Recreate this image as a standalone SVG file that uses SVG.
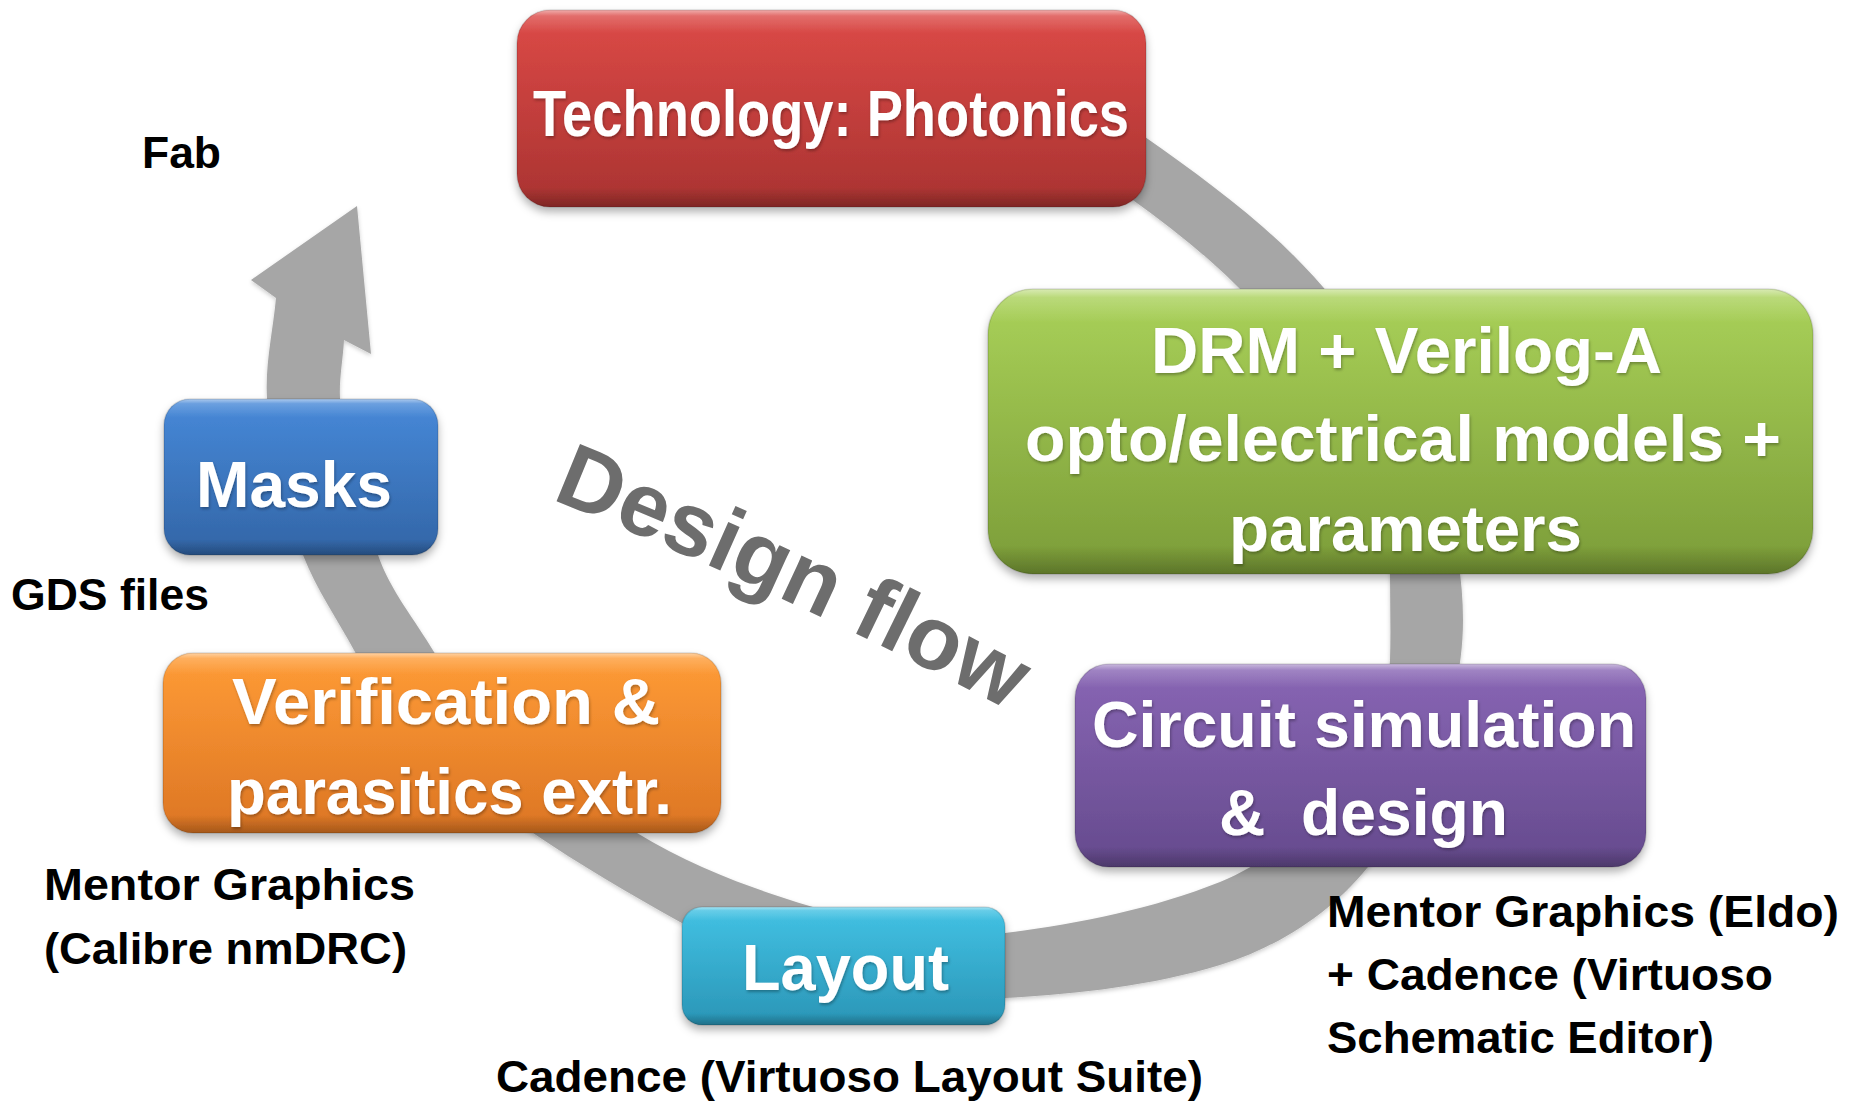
<svg xmlns="http://www.w3.org/2000/svg" width="1854" height="1102" viewBox="0 0 1854 1102">
  <style>
    .bt { font-family: "Liberation Sans", Arial, sans-serif; font-weight: bold; fill: #ffffff; font-size: 64px; }
    .lb { font-family: "Liberation Sans", Arial, sans-serif; font-weight: bold; fill: #000000; font-size: 44px; }
    .df { font-family: "Liberation Sans", Arial, sans-serif; font-weight: bold; fill: #6d6d6d; font-size: 90px; }
    .box { filter: url(#sh); }
    .rim { fill: url(#gloss); stroke: #000000; stroke-opacity: 0.12; stroke-width: 1.5; }
    .band { fill: #a6a6a6; }
  </style>
  <defs>
    <filter id="sh" x="-10%" y="-15%" width="120%" height="140%">
      <feDropShadow dx="0" dy="5" stdDeviation="4" flood-color="#000000" flood-opacity="0.3"/>
    </filter>
    <filter id="ts" x="-5%" y="-20%" width="110%" height="150%">
      <feDropShadow dx="1" dy="2" stdDeviation="1.5" flood-color="#000000" flood-opacity="0.3"/>
    </filter>
    <filter id="bs" x="-5%" y="-5%" width="110%" height="110%">
      <feDropShadow dx="0" dy="2" stdDeviation="2" flood-color="#000000" flood-opacity="0.2"/>
    </filter>
    <linearGradient id="gloss" x1="0" y1="0" x2="0" y2="1">
      <stop offset="0" stop-color="#ffffff" stop-opacity="0.55"/>
      <stop offset="0.03" stop-color="#ffffff" stop-opacity="0.2"/>
      <stop offset="0.12" stop-color="#ffffff" stop-opacity="0"/>
      <stop offset="0.9" stop-color="#000000" stop-opacity="0"/>
      <stop offset="1" stop-color="#000000" stop-opacity="0.25"/>
    </linearGradient>
    <linearGradient id="gRed" x1="0" y1="0" x2="0" y2="1">
      <stop offset="0" stop-color="#dd4a47"/>
      <stop offset="1" stop-color="#a93331"/>
    </linearGradient>
    <linearGradient id="gGreen" x1="0" y1="0" x2="0" y2="1">
      <stop offset="0" stop-color="#aad259"/>
      <stop offset="1" stop-color="#7b9c38"/>
    </linearGradient>
    <linearGradient id="gPurple" x1="0" y1="0" x2="0" y2="1">
      <stop offset="0" stop-color="#8966b5"/>
      <stop offset="1" stop-color="#654a8d"/>
    </linearGradient>
    <linearGradient id="gCyan" x1="0" y1="0" x2="0" y2="1">
      <stop offset="0" stop-color="#42c2e4"/>
      <stop offset="1" stop-color="#2a95b6"/>
    </linearGradient>
    <linearGradient id="gOrange" x1="0" y1="0" x2="0" y2="1">
      <stop offset="0" stop-color="#ff9c36"/>
      <stop offset="1" stop-color="#dc7524"/>
    </linearGradient>
    <linearGradient id="gBlue" x1="0" y1="0" x2="0" y2="1">
      <stop offset="0" stop-color="#4789d9"/>
      <stop offset="1" stop-color="#3265a6"/>
    </linearGradient>
    <path id="dfPath" d="M 551,499 A 5000 5000 0 0 1 1040,727"/>
  </defs>

  <rect x="0" y="0" width="1854" height="1102" fill="#ffffff"/>

  <g id="connectors">
    <path id="flow-arrow" class="band" filter="url(#bs)" d="M 1000,72 C 1051,87 1102,107 1145,137 C 1209,182 1272,228 1323,287 C 1402,378 1463,500 1463,620 C 1463,708 1423,798 1368,867 C 1331,913 1277,948 1220,965 C 1151,986 1077,994 1005,998 C 894,1003 777,975 680,922 C 630,894 580,865 533,833 C 463,785 395,727 355,652 C 338,620 316,589 303,555 C 284,505 270,452 267,398 C 265,364 273,331 276,298 L 251,280 L 357,206 L 371,354 L 344,340 C 343,359 339,379 340,398 C 342,452 360,504 378,555 C 390,590 415,620 434,652 C 479,731 559,786 637,833 C 691,866 752,889 813,907 C 875,925 941,941 1005,933 C 1078,924 1152,909 1220,882 C 1306,847 1385,753 1390,660 C 1391,632 1390,603 1390,575 C 1390,467 1315,364 1238,287 C 1205,254 1168,225 1130,198 C 1091,170 1047,147 1000,135 Z"/>
  </g>

  <g id="design-flow-title">
    <text class="df"><textPath href="#dfPath">Design flow</textPath></text>
  </g>

  <g id="node-technology" class="box">
    <rect x="517" y="10" width="629" height="197" rx="33" fill="url(#gRed)"/>
    <rect class="rim" x="517" y="10" width="629" height="197" rx="33"/>
    <text class="bt" filter="url(#ts)" x="533" y="136" font-size="56" textLength="596" lengthAdjust="spacingAndGlyphs">Technology: Photonics</text>
  </g>

  <g id="node-drm" class="box">
    <rect x="988" y="289" width="825" height="285" rx="45" fill="url(#gGreen)"/>
    <rect class="rim" x="988" y="289" width="825" height="285" rx="45"/>
    <text class="bt" filter="url(#ts)" x="1151" y="373" textLength="511" lengthAdjust="spacingAndGlyphs">DRM + Verilog-A</text>
    <text class="bt" filter="url(#ts)" x="1025" y="461" textLength="756" lengthAdjust="spacingAndGlyphs">opto/electrical models +</text>
    <text class="bt" filter="url(#ts)" x="1229" y="551" textLength="353" lengthAdjust="spacingAndGlyphs">parameters</text>
  </g>

  <g id="node-circuit" class="box">
    <rect x="1075" y="664" width="571" height="203" rx="34" fill="url(#gPurple)"/>
    <rect class="rim" x="1075" y="664" width="571" height="203" rx="34"/>
    <text class="bt" filter="url(#ts)" x="1092" y="747" textLength="544" lengthAdjust="spacingAndGlyphs">Circuit simulation</text>
    <text class="bt" filter="url(#ts)" x="1219" y="835" textLength="289" lengthAdjust="spacingAndGlyphs" xml:space="preserve" style="white-space:pre">&amp;  design</text>
  </g>

  <g id="node-layout" class="box">
    <rect x="682" y="907" width="323" height="118" rx="20" fill="url(#gCyan)"/>
    <rect class="rim" x="682" y="907" width="323" height="118" rx="20"/>
    <text class="bt" filter="url(#ts)" x="742" y="990" textLength="207" lengthAdjust="spacingAndGlyphs">Layout</text>
  </g>

  <g id="node-verification" class="box">
    <rect x="163" y="653" width="558" height="180" rx="30" fill="url(#gOrange)"/>
    <rect class="rim" x="163" y="653" width="558" height="180" rx="30"/>
    <text class="bt" filter="url(#ts)" x="232" y="724" textLength="428" lengthAdjust="spacingAndGlyphs">Verification &amp;</text>
    <text class="bt" filter="url(#ts)" x="227" y="814" textLength="445" lengthAdjust="spacingAndGlyphs">parasitics extr.</text>
  </g>

  <g id="node-masks" class="box">
    <rect x="164" y="399" width="274" height="156" rx="26" fill="url(#gBlue)"/>
    <rect class="rim" x="164" y="399" width="274" height="156" rx="26"/>
    <text class="bt" filter="url(#ts)" x="196" y="507" font-size="66" textLength="196" lengthAdjust="spacingAndGlyphs">Masks</text>
  </g>

  <g id="label-fab">
    <text class="lb" x="142" y="168" textLength="79" lengthAdjust="spacingAndGlyphs">Fab</text>
  </g>
  <g id="label-gds">
    <text class="lb" x="11" y="610" textLength="198" lengthAdjust="spacingAndGlyphs">GDS files</text>
  </g>
  <g id="label-mentor-calibre">
    <text class="lb" x="44" y="900" textLength="371" lengthAdjust="spacingAndGlyphs">Mentor Graphics</text>
    <text class="lb" x="44" y="964" textLength="363" lengthAdjust="spacingAndGlyphs">(Calibre nmDRC)</text>
  </g>
  <g id="label-cadence-layout">
    <text class="lb" x="496" y="1092" textLength="707" lengthAdjust="spacingAndGlyphs">Cadence (Virtuoso Layout Suite)</text>
  </g>
  <g id="label-mentor-eldo">
    <text class="lb" x="1327" y="927" textLength="512" lengthAdjust="spacingAndGlyphs">Mentor Graphics (Eldo)</text>
    <text class="lb" x="1327" y="990" textLength="446" lengthAdjust="spacingAndGlyphs">+ Cadence (Virtuoso</text>
    <text class="lb" x="1327" y="1053" textLength="387" lengthAdjust="spacingAndGlyphs">Schematic Editor)</text>
  </g>
</svg>
